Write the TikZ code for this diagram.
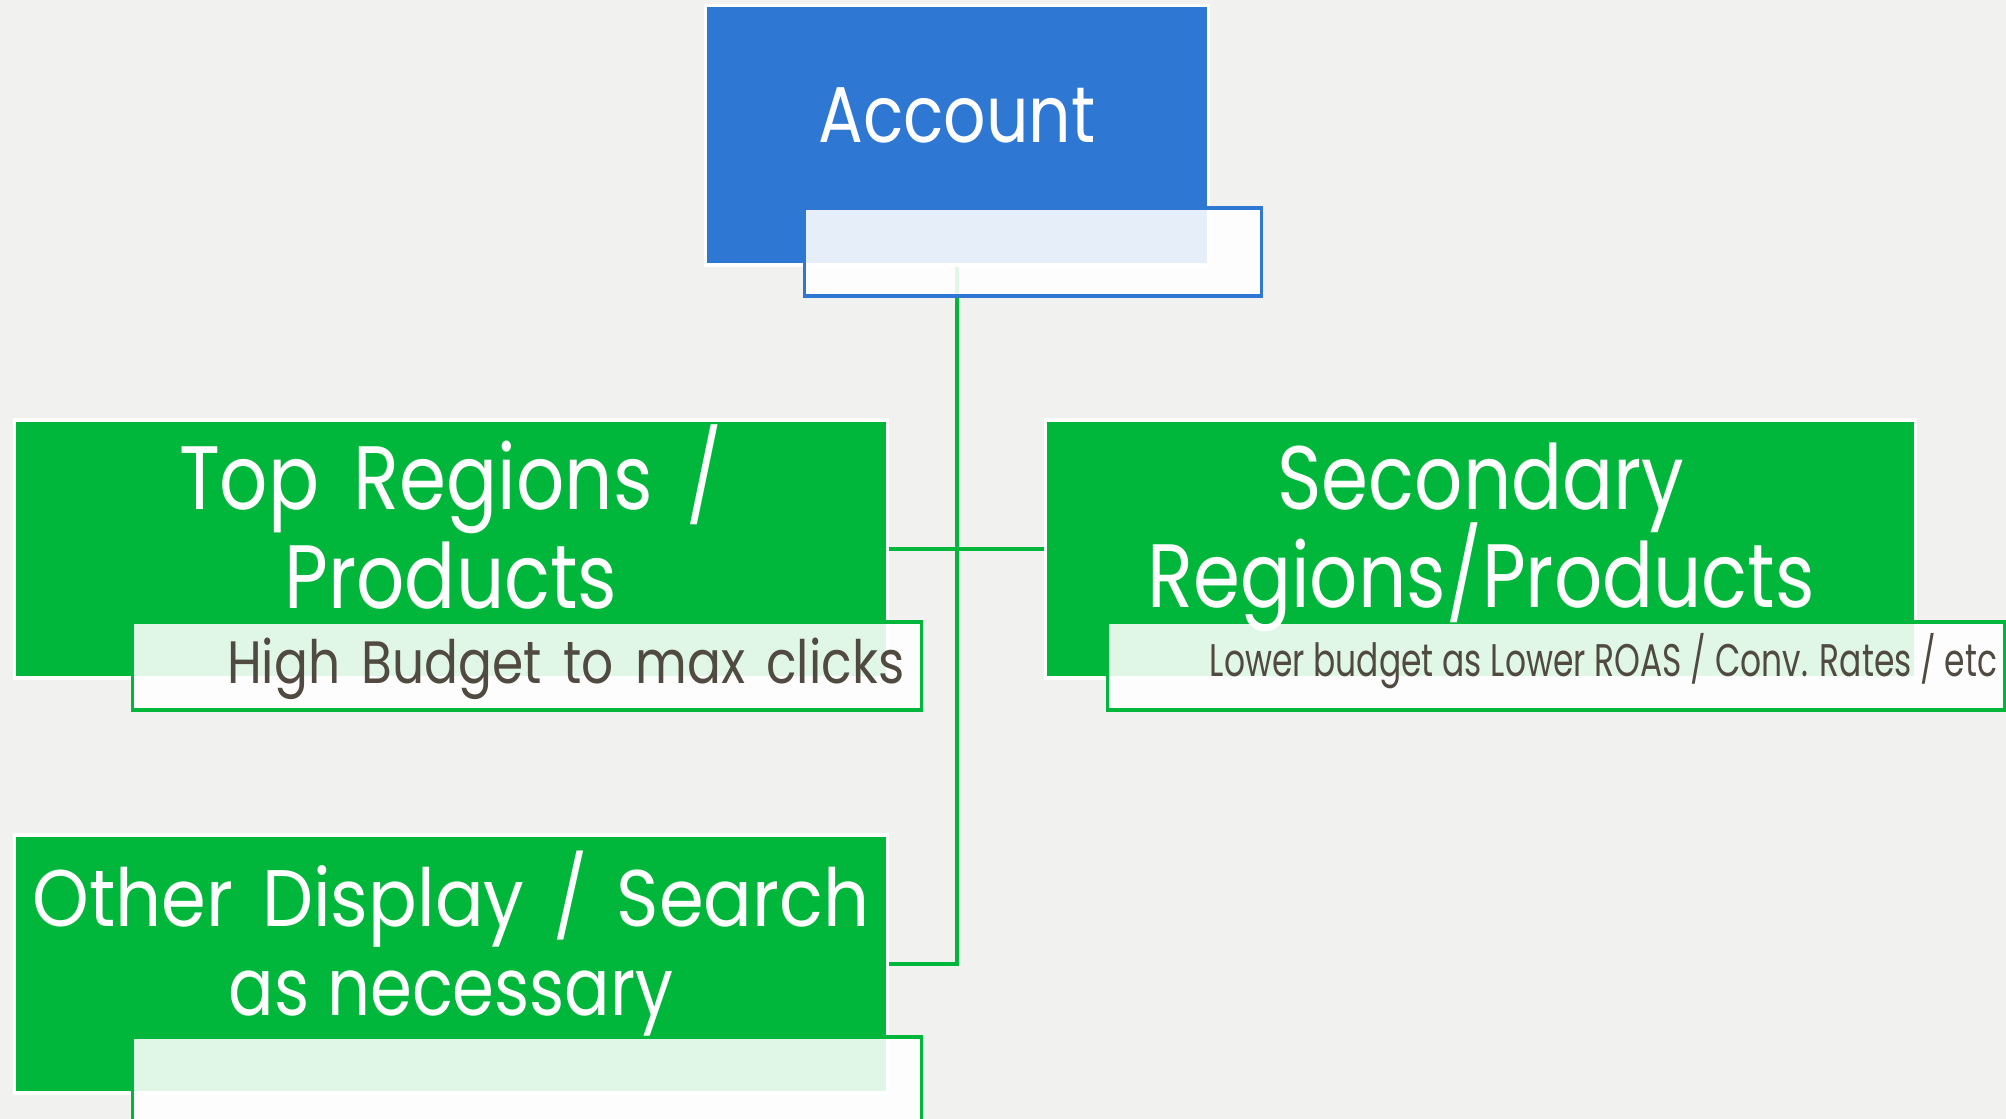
\documentclass[tikz,border=0pt]{standalone}
\usepackage{fontspec}
\setmainfont{Poppins}[FakeStretch=0.84]
\newfontfamily\wideface{Poppins}[FakeStretch=0.9]
\newfontfamily\narrowface{Poppins}[FakeStretch=0.72]
\usetikzlibrary{positioning}
\definecolor{acctblue}{HTML}{2E78D4}
\definecolor{boxgreen}{HTML}{00B73C}
\definecolor{notegrey}{HTML}{504A40}
\definecolor{paper}{HTML}{F1F1F0}
\newcommand{\wordgap}[1]{\spaceskip=#1\fontdimen2\font}

\tikzset{
  headbox/.style={draw=white, line width=0.9pt, fill=acctblue, inner sep=0pt},
  groupbox/.style={draw=white, line width=0.9pt, fill=boxgreen, inner sep=0pt, minimum width=8.72cm, minimum height=2.58cm},
  notebox/.style={fill=white, fill opacity=0.88, line width=0.9pt, inner sep=0pt, minimum height=0.88cm},
  link/.style={draw=boxgreen, line width=0.9pt},
  bigtext/.style={text=white, inner sep=0pt, anchor=base, font=\fontsize{25.6}{30}\selectfont},
  notetext/.style={text=notegrey, inner sep=0pt, anchor=base east},
}

\begin{document}
\begin{tikzpicture}[x=0.01cm, y=-0.01cm]
  \useasboundingbox (0,0) rectangle (2006,1119);
  \clip (0,0) rectangle (2006,1119);
  \fill [paper] (0,0) rectangle (2006,1119);

  \node [headbox, minimum width=5.02cm, minimum height=2.59cm] (acct) at ( 957, 135.5) {};
  \node [groupbox] (top) at ( 451, 549) {};
  \node [groupbox, minimum width=8.70cm] (second) at ( 1480.5, 549) {};
  \node [groupbox] (other) at ( 451, 964) {};

  \draw [link] (acct.south) |- (other.east);
  \draw [link] (top.east) -- (second.west);

  \node [notebox, draw=acctblue, minimum width=4.56cm] (acctnote) at ( 1033, 252) {};
  \node [notebox, draw=boxgreen, minimum width=7.88cm] (topnote) at ( 527, 666) {};
  \node [notebox, draw=boxgreen, minimum width=8.96cm] (secondnote) at ( 1556, 666) {};
  \node [notebox, draw=boxgreen, minimum width=7.88cm] (othernote) at ( 527, 1081) {};

  \node [bigtext, font=\fontsize{22.5}{27}\selectfont] (accttext) at ( 957, 143) {Account};
  \node [bigtext, font=\fontsize{25.6}{30}\selectfont\wordgap{1.7}] (toptext1) at ( 451, 510) {Top Regions /};
  \node [bigtext] (toptext2) at ( 451, 609) {Products};
  \node [bigtext] (secondtext1) at ( 1481, 510) {Secondary};
  \node [bigtext] (secondtext2) at ( 1481, 608) {Regions/Products};
  \node [bigtext, font=\wideface\fontsize{22.8}{27}\selectfont\wordgap{1.5}] (othertext1) at ( 451, 926) {Other Display / Search};
  \node [bigtext, font=\fontsize{22.8}{27}\selectfont] (othertext2) at ( 451, 1015) {as necessary};

  \node [notetext, font=\fontsize{17}{20}\selectfont\wordgap{1.6}] (topnotetext) at ( 905, 683) {High Budget to max clicks};
  \node [notetext, font=\narrowface\fontsize{13}{16}\selectfont] (secondnotetext) at ( 1998, 676) {Lower budget as Lower ROAS / Conv. Rates / etc};
\end{tikzpicture}
\end{document}
